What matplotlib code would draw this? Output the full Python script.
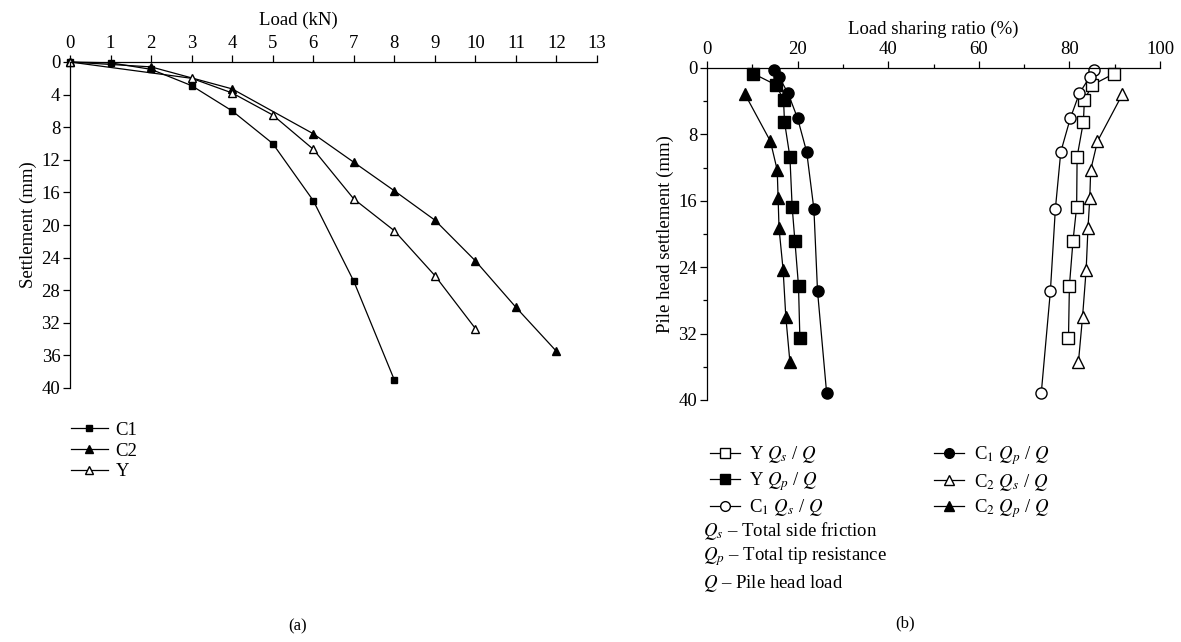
import matplotlib
matplotlib.use("Agg")
import matplotlib.pyplot as plt
from matplotlib.lines import Line2D

# ---- panel (a): load-settlement curves ----
c1_load = [0, 1, 2, 3, 4, 5, 6, 7, 8]
c1_settle = [0, 0.1, 0.9, 2.9, 6.0, 10.0, 17.0, 26.9, 39.0]
c2_load = [0, 2, 4, 6, 7, 8, 9, 10, 11, 12]
c2_settle = [0, 0.6, 3.3, 8.8, 12.3, 15.8, 19.4, 24.4, 30.1, 35.5]
y_load = [0, 3, 4, 5, 6, 7, 8, 9, 10]
y_settle = [0, 2.0, 3.8, 6.5, 10.7, 16.8, 20.7, 26.2, 32.7]

# ---- panel (b): load sharing ratios ----
y_b_settle = [0.67, 2.06, 3.88, 6.46, 10.7, 16.75, 20.8, 26.25, 32.5]
y_qs = [89.9, 85.0, 83.3, 83.1, 81.7, 81.6, 80.8, 80.0, 79.8]
y_qp = [10.2, 15.3, 16.9, 17.1, 18.3, 18.8, 19.4, 20.2, 20.5]
c1_b_settle = [0.28, 1.07, 3.05, 6.06, 10.1, 17.0, 26.9, 39.1]
c1_qs = [85.5, 84.5, 82.2, 80.2, 78.1, 76.9, 75.8, 73.8]
c1_qp = [14.9, 15.9, 17.9, 20.0, 22.0, 23.6, 24.4, 26.4]
c2_b_settle = [3.17, 8.83, 12.3, 15.7, 19.3, 24.3, 30.0, 35.4]
c2_qs = [91.7, 86.2, 84.7, 84.5, 84.1, 83.7, 82.9, 82.0]
c2_qp = [8.4, 14.0, 15.5, 15.7, 15.9, 16.8, 17.4, 18.3]

plt.rcParams["font.family"] = ["Liberation Serif", "DejaVu Serif"]
plt.rcParams["mathtext.fontset"] = "stix"
plt.rcParams["font.size"] = 13.5

W, H = 1181, 642
fig = plt.figure(figsize=(W / 100, H / 100), dpi=100)


def style_axes(ax):
    ax.xaxis.set_ticks_position("top")
    ax.xaxis.set_label_position("top")
    ax.spines["bottom"].set_visible(False)
    ax.spines["right"].set_visible(False)
    for s in ("top", "left"):
        ax.spines[s].set_linewidth(0.9)
    ax.tick_params(which="major", direction="out", length=5, width=0.9, pad=2)
    ax.tick_params(which="minor", direction="out", length=3, width=0.9)
    ax.set_ylim(40, 0)


# panel (a)
ax1 = fig.add_axes([70 / W, 1 - 388 / H, 527 / W, 326 / H])
style_axes(ax1)
lk = dict(color="black", lw=0.9, clip_on=False)
ax1.plot(c1_load, c1_settle, marker="s", ms=5, mfc="black", label="C1", **lk)
ax1.plot(c2_load, c2_settle, marker="^", ms=5.5, mfc="black", label="C2", **lk)
ax1.plot(y_load, y_settle, marker="^", ms=5.5, mfc="white", label="Y", **lk)
ax1.set_xlim(0, 13)
ax1.set_xticks(range(0, 14))
ax1.set_yticks(range(0, 41, 4))
ax1.set_xlabel("Load (kN)")
ax1.xaxis.set_label_coords(0.433, 1.115)
ax1.set_ylabel("Settlement (mm)", labelpad=3)
ax1.legend(loc="upper left", bbox_to_anchor=(-0.013, -0.08), frameon=False,
           handlelength=2.0, handletextpad=0.4, labelspacing=0.2,
           borderaxespad=0, fontsize=13.5)

# panel (b)
ax2 = fig.add_axes([707 / W, 1 - 400 / H, 453 / W, 332 / H])
style_axes(ax2)
mk = dict(color="black", lw=0.9, ms=8, clip_on=False)
ax2.plot(y_qs, y_b_settle, marker="s", mfc="white", **mk)
ax2.plot(y_qp, y_b_settle, marker="s", mfc="black", **mk)
ax2.plot(c1_qs, c1_b_settle, marker="o", mfc="white", **mk)
ax2.plot(c1_qp, c1_b_settle, marker="o", mfc="black", **mk)
ax2.plot(c2_qs, c2_b_settle, marker="^", mfc="white", **mk)
ax2.plot(c2_qp, c2_b_settle, marker="^", mfc="black", **mk)
ax2.set_xlim(0, 100)
ax2.set_xticks(range(0, 101, 20))
ax2.set_xticks(range(10, 100, 20), minor=True)
ax2.set_yticks(range(0, 41, 8))
ax2.set_yticks(range(4, 40, 8), minor=True)
ax2.set_xlabel("Load sharing ratio (%)", labelpad=5)
ax2.set_ylabel("Pile head settlement (mm)", labelpad=3)

hb = dict(color="black", lw=0.9, ms=7)
handles = [
    Line2D([], [], marker="s", mfc="white", **hb),
    Line2D([], [], marker="s", mfc="black", **hb),
    Line2D([], [], marker="o", mfc="white", **hb),
    Line2D([], [], marker="o", mfc="black", **hb),
    Line2D([], [], marker="^", mfc="white", **hb),
    Line2D([], [], marker="^", mfc="black", **hb),
]
labels = [
    r"Y $Q_s$ / $Q$",
    r"Y $Q_p$ / $Q$",
    r"C$_1$ $Q_s$ / $Q$",
    r"C$_1$ $Q_p$ / $Q$",
    r"C$_2$ $Q_s$ / $Q$",
    r"C$_2$ $Q_p$ / $Q$",
]
ax2.legend(handles, labels, ncol=2, loc="upper left", bbox_to_anchor=(-0.01, -0.11),
           frameon=False, handlelength=1.6, handletextpad=0.5, labelspacing=0.25,
           columnspacing=5.9, borderaxespad=0, fontsize=13.5)

fig.text(703 / W, 1 - 531 / H, r"$Q_s$ – Total side friction", fontsize=13.5, va="center")
fig.text(703 / W, 1 - 557 / H, r"$Q_p$ – Total tip resistance", fontsize=13.5, va="center")
fig.text(703 / W, 1 - 583 / H, r"$Q$ – Pile head load", fontsize=13.5, va="center")

fig.text(298 / W, 1 - 626 / H, "(a)", ha="center", va="center", fontsize=12)
fig.text(905 / W, 1 - 623 / H, "(b)", ha="center", va="center", fontsize=12)

fig.savefig("out.png", dpi=100)
